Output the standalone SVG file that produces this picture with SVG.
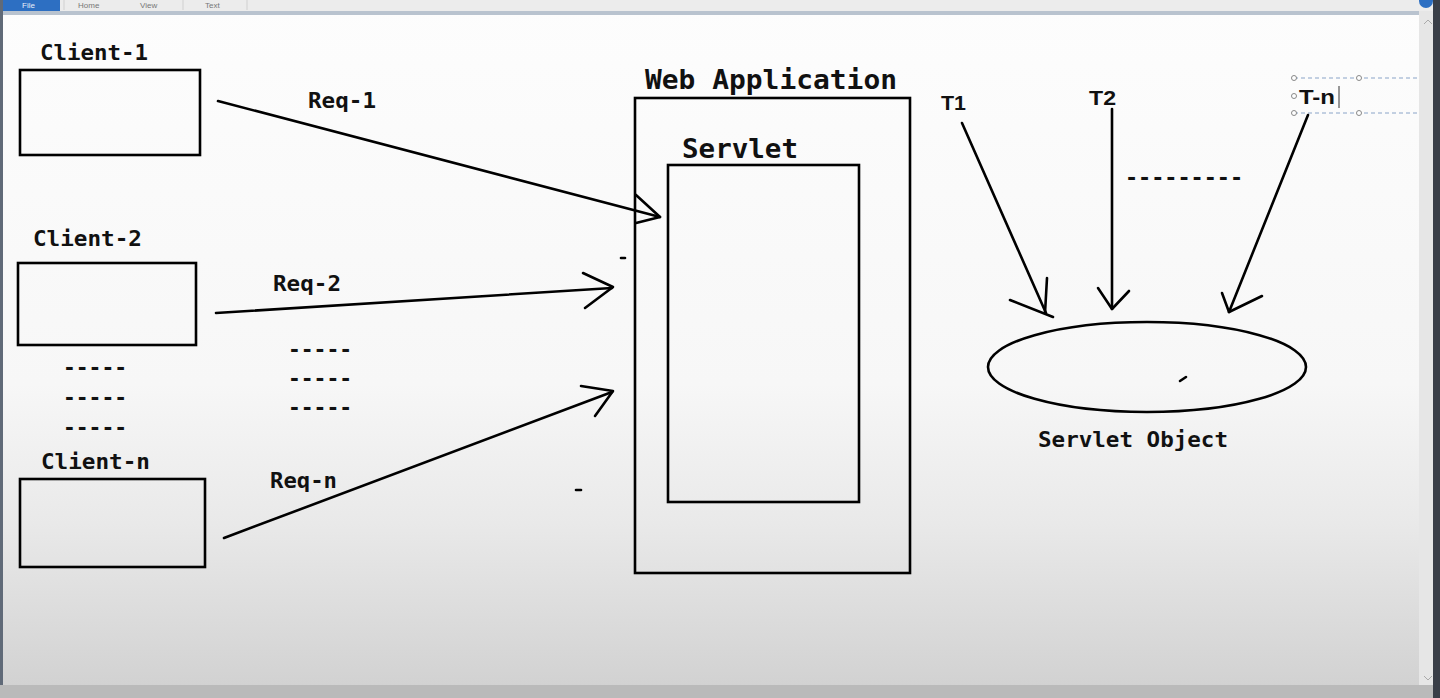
<svg xmlns="http://www.w3.org/2000/svg" width="1440" height="698" viewBox="0 0 1440 698">
<defs>
<linearGradient id="bg" x1="0" y1="0" x2="0" y2="1">
<stop offset="0" stop-color="#fdfdfd"/>
<stop offset="0.55" stop-color="#f7f7f7"/>
<stop offset="0.75" stop-color="#e9e9e9"/>
<stop offset="1" stop-color="#d0d0d0"/>
</linearGradient>
<style>
.box{fill:none;stroke:#000;stroke-width:2.6}
.ln{fill:none;stroke:#000;stroke-width:2.6;stroke-linecap:round;stroke-linejoin:round}
.lbl{font-family:"DejaVu Sans Mono","Liberation Mono",monospace;font-weight:bold;fill:#111}
.t{font-family:"Liberation Sans",Arial,sans-serif;font-weight:bold;fill:#111;font-size:20px}
.ui{font-family:"Liberation Sans",Arial,sans-serif;font-size:8px;fill:#777}
.sel{fill:none;stroke:#8aa4c8;stroke-width:1;stroke-dasharray:4 3}
.hdl{fill:#fff;stroke:#888;stroke-width:1}
</style>
</defs>
<!-- window chrome -->
<rect x="0" y="0" width="1440" height="698" fill="url(#bg)"/>
<rect x="0" y="0" width="1440" height="11" fill="#ececec"/>
<rect x="0" y="0" width="60" height="11" fill="#2d6fc2"/>
<text class="ui" x="22" y="8" style="fill:#e8eef8">File</text>
<text class="ui" x="78" y="8">Home</text>
<text class="ui" x="140" y="8">View</text>
<text class="ui" x="205" y="8">Text</text>
<line x1="64" y1="0" x2="64" y2="10" stroke="#d0d0d0"/>
<line x1="183" y1="0" x2="183" y2="10" stroke="#d0d0d0"/>
<line x1="247" y1="0" x2="247" y2="10" stroke="#d0d0d0"/>
<rect x="0" y="11" width="1420" height="4" fill="#b9c3cf"/>
<rect x="0" y="0" width="3" height="698" fill="#606a78"/>
<rect x="1419" y="11" width="14" height="675" fill="#e6e6e6"/>
<path d="M1424 24 L1428 20 L1432 24" fill="none" stroke="#aaa" stroke-width="1"/>
<path d="M1424 676 L1428 680 L1432 676" fill="none" stroke="#aaa" stroke-width="1"/>
<rect x="1433" y="0" width="7" height="698" fill="#3a3f48"/>
<circle cx="1426" cy="1" r="7" fill="#2d6fc2"/>
<rect x="0" y="685" width="1433" height="13" fill="#bababa"/>

<!-- clients -->
<g id="client-1">
<text class="lbl" x="40" y="60" font-size="22" textLength="108" lengthAdjust="spacingAndGlyphs">Client-1</text>
<rect class="box" x="20" y="70" width="180" height="85"/>
</g>
<g id="client-2">
<text class="lbl" x="33" y="246" font-size="22" textLength="109" lengthAdjust="spacingAndGlyphs">Client-2</text>
<rect class="box" x="18" y="263" width="178" height="82"/>
</g>
<g id="client-dots">
<text class="lbl" x="63" y="375" font-size="21" textLength="64" lengthAdjust="spacingAndGlyphs">-----</text>
<text class="lbl" x="63" y="405" font-size="21" textLength="64" lengthAdjust="spacingAndGlyphs">-----</text>
<text class="lbl" x="63" y="435" font-size="21" textLength="64" lengthAdjust="spacingAndGlyphs">-----</text>
</g>
<g id="client-n">
<text class="lbl" x="41" y="469" font-size="22" textLength="109" lengthAdjust="spacingAndGlyphs">Client-n</text>
<rect class="box" x="20" y="479" width="185" height="88"/>
</g>

<!-- web application -->
<g id="web-application">
<text class="lbl" x="645" y="89" font-size="27" textLength="252" lengthAdjust="spacingAndGlyphs">Web Application</text>
<rect class="box" x="635" y="98" width="275" height="475"/>
</g>
<g id="servlet">
<text class="lbl" x="682" y="158" font-size="27" textLength="116" lengthAdjust="spacingAndGlyphs">Servlet</text>
<rect class="box" x="668" y="165" width="191" height="337"/>
</g>

<!-- servlet object -->
<g id="servlet-object">
<ellipse class="box" cx="1147" cy="367" rx="159" ry="45"/>
<text class="lbl" x="1038" y="447" font-size="22" textLength="190" lengthAdjust="spacingAndGlyphs">Servlet Object</text>
</g>
<g id="thread-t1">
<text class="t" x="941" y="110" textLength="25" lengthAdjust="spacingAndGlyphs">T1</text>
</g>
<g id="thread-t2">
<text class="t" x="1089" y="105" textLength="27" lengthAdjust="spacingAndGlyphs">T2</text>
</g>
<g id="thread-dots">
<text class="lbl" x="1125" y="185" font-size="21" textLength="118" lengthAdjust="spacingAndGlyphs">---------</text>
</g>
<g id="thread-tn">
<line class="sel" x1="1294" y1="78" x2="1420" y2="78"/>
<line class="sel" x1="1294" y1="113" x2="1420" y2="113"/>
<circle class="hdl" cx="1294" cy="78" r="2.5"/>
<circle class="hdl" cx="1359" cy="78" r="2.5"/>
<circle class="hdl" cx="1294" cy="96" r="2.5"/>
<circle class="hdl" cx="1294" cy="113" r="2.5"/>
<circle class="hdl" cx="1359" cy="113" r="2.5"/>
<text class="t" x="1299" y="104" textLength="36" lengthAdjust="spacingAndGlyphs">T-n</text>
<line x1="1339" y1="86" x2="1339" y2="108" stroke="#333" stroke-width="1"/>
</g>

<!-- connectors -->
<g id="connectors">
<g id="req-1">
<path class="ln" d="M218 101 L660 217"/>
<path class="ln" d="M636 195 L660 217 L636 223"/>
<text class="lbl" x="308" y="108" font-size="21" textLength="68" lengthAdjust="spacingAndGlyphs">Req-1</text>
</g>
<g id="req-2">
<path class="ln" d="M216 313 L612 288"/>
<path class="ln" d="M583 273 L613 287 L585 308"/>
<text class="lbl" x="273" y="291" font-size="21" textLength="68" lengthAdjust="spacingAndGlyphs">Req-2</text>
</g>
<g id="req-dots">
<text class="lbl" x="288" y="357" font-size="21" textLength="64" lengthAdjust="spacingAndGlyphs">-----</text>
<text class="lbl" x="288" y="386" font-size="21" textLength="64" lengthAdjust="spacingAndGlyphs">-----</text>
<text class="lbl" x="288" y="415" font-size="21" textLength="64" lengthAdjust="spacingAndGlyphs">-----</text>
</g>
<g id="req-n">
<path class="ln" d="M224 538 L612 392"/>
<path class="ln" d="M581 386 L613 391 L595 416"/>
<text class="lbl" x="270" y="488" font-size="21" textLength="67" lengthAdjust="spacingAndGlyphs">Req-n</text>
</g>
<g id="t1-arrow">
<path class="ln" d="M962 123 L1046 313"/>
<path class="ln" d="M1010 300 L1053 317"/>
<path class="ln" d="M1047 278 L1045 313"/>
</g>
<g id="t2-arrow">
<path class="ln" d="M1112 109 L1112 309"/>
<path class="ln" d="M1098 288 L1112 309 L1129 291"/>
</g>
<g id="tn-arrow">
<path class="ln" d="M1308 115 L1229 312"/>
<path class="ln" d="M1222 293 L1229 312 L1262 296"/>
</g>
</g>

<!-- stray marks -->
<line class="ln" x1="621" y1="258" x2="625" y2="258" stroke-width="2"/>
<line class="ln" x1="576" y1="490" x2="581" y2="490" stroke-width="2.5"/>
<line class="ln" x1="1180" y1="381" x2="1186" y2="377" stroke-width="3"/>
</svg>
